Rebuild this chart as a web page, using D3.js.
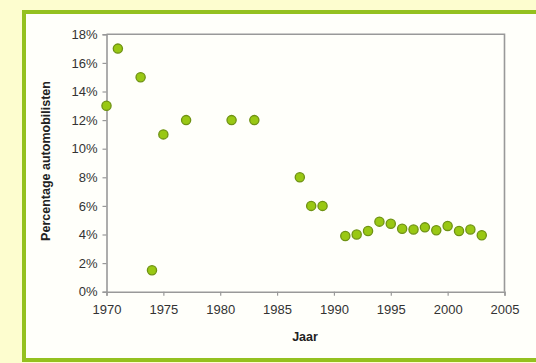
<!DOCTYPE html>
<html>
<head>
<meta charset="utf-8">
<script src="https://cdn.jsdelivr.net/npm/d3@7"></script>
<style>
  html, body { margin: 0; padding: 0; background: #fdfdcf; }
  svg { display: block; }
</style>
</head>
<body>
<script>
// Share of motorists per year
const years = [1970, 1971, 1973, 1974, 1975, 1977, 1981, 1983, 1987, 1988, 1989,
               1991, 1992, 1993, 1994, 1995, 1996, 1997, 1998, 1999, 2000, 2001, 2002, 2003];
const percentages = [13, 17, 15, 1.5, 11, 12, 12, 12, 8, 6, 6,
                     3.9, 4.0, 4.25, 4.9, 4.75, 4.4, 4.35, 4.5, 4.3, 4.6, 4.25, 4.35, 3.95];
const xTicks = [1970, 1975, 1980, 1985, 1990, 1995, 2000, 2005];
const yTicks = [0, 2, 4, 6, 8, 10, 12, 14, 16, 18];
const xTitle = "Jaar";
const yTitle = "Percentage automobilisten";

const W = 536, H = 363;
const svg = d3.select("body").append("svg").attr("width", W).attr("height", H);

// page background and green frame
svg.append("rect").attr("width", W).attr("height", H).attr("fill", "#fdfdcf");
svg.append("rect")
  .attr("x", 24).attr("y", 12).attr("width", W + 20).attr("height", 348)
  .attr("fill", "#fffffa").attr("stroke", "#94c11f").attr("stroke-width", 4);

const plot = { left: 106.5, right: 504.5, top: 34.3, bottom: 291.7 };
const x = d3.scaleLinear().domain([1970, 2005]).range([plot.left, plot.right]);
const y = d3.scaleLinear().domain([0, 18]).range([plot.bottom, plot.top]);

const font = "'Liberation Sans', Arial, sans-serif";

// plot box (top and right edges)
svg.append("path")
  .attr("d", `M${plot.left},${plot.top}H${plot.right}V${plot.bottom}`)
  .attr("fill", "none").attr("stroke", "#999").attr("stroke-width", 1.6);

const xAxis = svg.append("g")
  .attr("transform", `translate(0,${plot.bottom})`)
  .call(d3.axisBottom(x).tickValues(xTicks).tickFormat(d3.format("d")).tickSize(4).tickPadding(9));
const yAxis = svg.append("g")
  .attr("transform", `translate(${plot.left},0)`)
  .call(d3.axisLeft(y).tickValues(yTicks).tickFormat(d => d + "%").tickSize(4).tickPadding(5));

[xAxis, yAxis].forEach(g => {
  g.select(".domain").attr("stroke", "#999").attr("stroke-width", 1.6);
  g.selectAll(".tick line").attr("stroke", "#999").attr("stroke-width", 1.2);
  g.selectAll(".tick text").attr("fill", "#333").style("font-family", font).style("font-size", "13px");
});

// data points
svg.append("g").selectAll("circle")
  .data(years.map((yr, i) => ({ yr, v: percentages[i] })))
  .join("circle")
  .attr("cx", d => x(d.yr))
  .attr("cy", d => y(d.v))
  .attr("r", 4.6)
  .attr("fill", "#99c813")
  .attr("stroke", "#6f9214")
  .attr("stroke-width", 1.3);

// axis titles
svg.append("text")
  .attr("x", 305).attr("y", 341)
  .attr("text-anchor", "middle")
  .style("font-family", font).style("font-size", "12.5px").style("font-weight", "bold")
  .attr("fill", "#222")
  .text(xTitle);
svg.append("text")
  .attr("transform", `translate(50,${(plot.top + plot.bottom) / 2 - 2}) rotate(-90)`)
  .attr("text-anchor", "middle")
  .style("font-family", font).style("font-size", "12.5px").style("font-weight", "bold")
  .attr("fill", "#222")
  .text(yTitle);
</script>
</body>
</html>
